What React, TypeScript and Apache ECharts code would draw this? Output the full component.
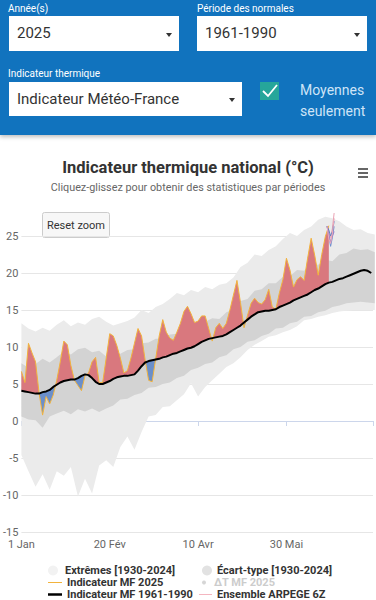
import React, { useEffect, useRef } from "react";
import * as echarts from "echarts";

const FONT = "Roboto, 'Noto Sans', sans-serif";

// ---- Data (day index since 1 Jan, leap-year calendar) ----
const NORMAL_STEP = 2; // days between points of the daily-type series
const BAND_STEP = 4; // days between points of the climatological bands

// Indicateur MF 1961-1990 (normal), every 2 days from day 0
const normal19611990 = [
  4.1, 4.0, 3.9, 3.8, 3.7, 3.7, 3.9, 4.0, 4.2, 4.6,
  4.9, 5.2, 5.4, 5.5, 5.6, 5.6, 5.8, 6.1, 6.3, 6.2,
  5.8, 5.3, 5.0, 5.0, 5.2, 5.4, 5.7, 5.9, 6.0, 6.1,
  6.1, 6.2, 6.3, 6.8, 7.4, 7.9, 8.1, 8.2, 8.3, 8.4,
  8.6, 8.7, 8.9, 9.1, 9.2, 9.4, 9.6, 9.8, 9.9, 10.1,
  10.4, 10.7, 10.9, 11.1, 11.2, 11.3, 11.4, 11.5, 11.7, 12.0,
  12.3, 12.6, 12.9, 13.3, 13.7, 14.1, 14.4, 14.7, 14.8, 14.9,
  14.9, 15.0, 15.1, 15.4, 15.6, 15.8, 16.0, 16.3, 16.5, 16.7,
  16.9, 17.1, 17.4, 17.7, 17.9, 18.2, 18.5, 18.7, 18.8, 19.0,
  19.2, 19.3, 19.5, 19.7, 19.9, 20.1, 20.3, 20.4, 20.3, 20.0,
];

// Indicateur MF 2025, every 2 days from day 0
const mf2025 = [
  6.7, 5.2, 10.5, 9.2, 8.0, 3.8, 0.8, 3.3, 2.3, 3.5,
  5.5, 8.0, 10.8, 10.3, 7.5, 5.5, 4.8, 4.1, 6.1, 6.5,
  8.0, 8.6, 5.2, 5.2, 8.5, 11.8, 11.5, 10.2, 8.5, 6.5,
  6.8, 8.5, 10.5, 12.5, 11.5, 8.3, 5.5, 5.3, 8.4, 11.5,
  13.7, 12.0, 11.2, 10.9, 12.0, 13.2, 14.8, 15.5, 14.5, 13.3,
  13.5, 14.2, 14.2, 12.5, 10.8, 12.6, 13.2, 12.5, 13.2, 15.0,
  17.0, 19.0, 16.0, 12.6, 14.3, 15.9, 16.6, 16.0, 15.8, 16.4,
  17.8, 15.4, 15.1, 17.3, 19.1, 22.0, 20.4, 18.1, 19.1, 19.5,
  19.0, 22.0, 24.7, 22.4, 19.7, 22.5, 24.9, 26.4,
];

// Écart-type [1930-2024], every 4 days from day 0
const stdUpper = [
  7.8, 7.2, 7.7, 8.4, 7.9, 8.6, 9.4, 9.0, 9.7, 9.9,
  9.3, 9.5, 8.7, 9.0, 9.1, 9.6, 9.7, 10.5, 10.6, 11.1,
  11.1, 11.7, 11.8, 12.5, 12.6, 13.4, 13.4, 13.9, 13.8, 14.7,
  15.1, 16.2, 16.5, 17.6, 17.8, 18.6, 18.6, 19.5, 19.6, 20.4,
  20.3, 21.1, 21.1, 21.8, 21.6, 22.5, 22.7, 23.3, 23.1, 23.2,
  22.8,
];
const stdLower = [
  0.6, 0.2, 0.1, -0.9, 0.6, 1.0, 1.4, 0.9, 1.6, 1.3,
  1.7, 1.2, 1.7, 2.1, 2.9, 3.0, 3.5, 3.8, 4.5, 4.6,
  5.0, 5.2, 5.8, 6.1, 6.9, 7.2, 7.7, 7.9, 8.6, 8.9,
  9.7, 10.0, 10.7, 10.9, 11.5, 11.8, 12.5, 12.6, 13.2, 13.4,
  14.1, 14.2, 14.7, 14.9, 15.4, 15.6, 15.9, 16.0, 16.1, 16.0,
  15.9,
];

// Extrêmes [1930-2024], every 4 days from day 0
const extUpper = [
  13.2, 12.5, 12.1, 12.6, 12.2, 13.0, 13.6, 12.8, 13.3, 13.0,
  13.8, 14.1, 13.4, 12.9, 13.2, 13.5, 14.0, 15.0, 14.6, 15.4,
  15.8, 16.5, 17.3, 17.0, 17.7, 17.4, 18.1, 17.8, 18.4, 18.6,
  19.4, 20.8, 21.4, 22.5, 22.3, 23.1, 23.6, 24.6, 25.4, 25.0,
  25.8, 26.3, 27.2, 27.6, 27.4, 27.0, 26.3, 25.8, 25.9, 25.4,
  25.2,
];
const extLower = [
  -4.6, -6.8, -8.9, -7.2, -9.3, -6.8, -7.4, -6.2, -10.2, -7.8,
  -9.8, -6.0, -5.3, -6.2, -3.5, -2.1, -3.9, -1.5, 0.6, 0.8,
  1.9, 2.0, 2.8, 3.6, 5.1, 3.3, 4.6, 5.5, 6.4, 7.3,
  7.8, 8.6, 9.6, 10.3, 10.8, 11.4, 11.6, 12.0, 12.3, 12.8,
  13.6, 13.8, 14.1, 14.3, 14.6, 14.8, 14.9, 15.0, 15.0, 15.0,
  15.0,
];

// Ensemble ARPEGE 6Z
const ensembleDays = [173, 174, 175, 176, 177];
const ensembleMembers = [
  [26.3, 25.5, 24.8, 26.0, 28.1],
  [26.3, 25.0, 23.6, 24.8, 26.3],
  [26.3, 25.2, 24.2, 25.0, 25.6],
  [26.3, 25.8, 25.0, 25.6, 27.0],
  [26.3, 24.6, 24.0, 25.4, 27.4],
];
const ensembleColors = ["#eaa3b4", "#6f8fd0", "#9b7cc4", "#5b7fc2", "#f0a8b8"];

// Axes
const xTickDays = [0, 50, 100, 150];
const xTickLabels = ["1 Jan", "20 Fév", "10 Avr", "30 Mai"];
const yMin = -15;
const yMax = 25;
const yStep = 5;

const S_EXT = "Extrêmes [1930-2024]";
const S_STD = "Écart-type [1930-2024]";
const S_2025 = "Indicateur MF 2025";
const S_NORM = "Indicateur MF 1961-1990";
const S_DT = "ΔT MF 2025";
const S_ENS = "Ensemble ARPEGE 6Z";

// 2025 vs normal, with the crossing points added so the fills meet the lines
function buildAnomalyPoints() {
  const pts: { x: number; t: number; n: number }[] = [];
  for (let i = 0; i < mf2025.length; i++) {
    const x = i * NORMAL_STEP;
    const t = mf2025[i];
    const n = normal19611990[i];
    pts.push({ x, t, n });
    if (i + 1 < mf2025.length) {
      const a = t - n;
      const b = mf2025[i + 1] - normal19611990[i + 1];
      if (a * b < 0) {
        const f = a / (a - b);
        const nc = n + f * (normal19611990[i + 1] - n);
        pts.push({ x: x + f * NORMAL_STEP, t: nc, n: nc });
      }
    }
  }
  return pts;
}

// A filled band between two data lines, drawn through the axes (api.coord)
function bandSeries(name: string, upper: number[][], lower: number[][], color: string, z: number) {
  return {
    type: "custom",
    name,
    silent: true,
    clip: false,
    z,
    itemStyle: { color },
    encode: { x: 0, y: 1 },
    data: [[upper[0][0], upper[0][1]]],
    renderItem: (_params: any, api: any) => {
      const pts = upper
        .map((p) => api.coord(p))
        .concat(lower.slice().reverse().map((p) => api.coord(p)));
      return { type: "polygon", shape: { points: pts }, style: { fill: color } };
    },
  };
}

function legendBox(name: string, left: number, centerY: number, icon: string, w: number, h: number, color: string, extra: any = {}) {
  return {
    show: true,
    left,
    top: centerY - 5.5,
    padding: 0,
    itemGap: 0,
    itemWidth: w,
    itemHeight: h,
    inactiveColor: "#cccccc",
    textStyle: { fontFamily: FONT, fontSize: 11, fontWeight: "bold", color: "#333333", lineHeight: 11 },
    data: [{ name, icon, itemStyle: { color } }],
    ...extra,
  };
}

function buildOption() {
  const pts = buildAnomalyPoints();
  const bandPts = (vals: number[]) => vals.map((v, i) => [i * BAND_STEP, v]);
  const normalLine = pts.map((p) => [p.x, p.n]);
  const aboveLine = pts.map((p) => [p.x, Math.max(p.t, p.n)]);
  const belowLine = pts.map((p) => [p.x, Math.min(p.t, p.n)]);

  const series: any[] = [
    bandSeries(S_EXT, bandPts(extUpper), bandPts(extLower), "#ebebeb", 1),
    bandSeries(S_STD, bandPts(stdUpper), bandPts(stdLower), "#d3d3d3", 1),
    bandSeries("anomalie+", aboveLine, normalLine, "#d9787e", 2),
    bandSeries("anomalie-", normalLine, belowLine, "#6b8fca", 2),
    {
      type: "line",
      name: S_2025,
      data: mf2025.map((v, i) => [i * NORMAL_STEP, v]),
      symbol: "none",
      clip: false,
      z: 3,
      color: "#f2b33d",
      lineStyle: { width: 1, color: "#f2b33d" },
      emphasis: { disabled: true },
    },
    {
      type: "line",
      name: S_NORM,
      data: normal19611990.map((v, i) => [i * NORMAL_STEP, v]),
      symbol: "none",
      z: 4,
      color: "#000000",
      lineStyle: { width: 2, color: "#000000" },
      emphasis: { disabled: true },
    },
    ...ensembleMembers.map((m, k) => ({
      type: "line",
      name: S_ENS,
      data: m.map((v, i) => [ensembleDays[i], v]),
      symbol: "none",
      clip: false,
      z: 5,
      color: ensembleColors[k],
      lineStyle: { width: 1, color: ensembleColors[k] },
      emphasis: { disabled: true },
    })),
    {
      type: "scatter",
      name: S_DT,
      data: mf2025.map((v, i) => [i * NORMAL_STEP, v - normal19611990[i]]),
      symbolSize: 4,
      color: "#999999",
      z: 6,
    },
  ];

  return {
    animation: false,
    backgroundColor: "#ffffff",
    textStyle: { fontFamily: FONT },
    title: {
      text: "Indicateur thermique national (°C)",
      subtext: "Cliquez-glissez pour obtenir des statistiques par périodes",
      left: "center",
      top: 157,
      padding: 0,
      itemGap: 3,
      textStyle: { fontFamily: FONT, fontSize: 16.5, fontWeight: "bold", color: "#333333", lineHeight: 20 },
      subtextStyle: { fontFamily: FONT, fontSize: 10.8, color: "#666666", lineHeight: 14 },
    },
    grid: { left: 18, right: 0, top: 236, bottom: 68, containLabel: false },
    xAxis: {
      type: "value",
      min: 0,
      max: 199,
      interval: 50,
      axisLine: { show: true, lineStyle: { color: "#ccd6eb", width: 1 } },
      axisTick: { show: true, length: 5, lineStyle: { color: "#ccd6eb" } },
      splitLine: { show: false },
      axisLabel: {
        margin: 7,
        fontFamily: FONT,
        fontSize: 11,
        color: "#666666",
        formatter: (v: number) => {
          const i = xTickDays.indexOf(v);
          return i >= 0 ? xTickLabels[i] : "";
        },
      },
    },
    yAxis: {
      type: "value",
      min: yMin,
      max: yMax,
      interval: yStep,
      axisLine: { show: false },
      axisTick: { show: false },
      splitLine: { show: true, lineStyle: { color: "#e6e6e6", width: 1 } },
      axisLabel: { margin: 3, fontFamily: FONT, fontSize: 11, color: "#666666" },
    },
    legend: [
      legendBox(S_EXT, 48, 570.5, "circle", 14, 10, "#f2f2f2"),
      legendBox(S_2025, 48, 582.5, "path://M0,0 L14,0 L14,1 L0,1 Z", 14, 11, "#f2b33d"),
      legendBox(S_NORM, 48, 594.5, "path://M0,0 L14,0 L14,2.5 L0,2.5 Z", 14, 11, "#000000"),
      legendBox(S_STD, 202, 570.5, "circle", 10, 10, "#e2e2e2"),
      legendBox(S_DT, 202, 582.5, "circle", 10, 4, "#cccccc", { selected: { [S_DT]: false } }),
      legendBox(S_ENS, 199, 594.5, "path://M0,0 L13,0 L13,1 L0,1 Z", 13, 11, "#f4b6c0"),
    ],
    graphic: [
      {
        type: "group",
        left: 42,
        top: 212,
        z: 100,
        children: [
          {
            type: "rect",
            shape: { x: 0.5, y: 0.5, width: 67, height: 25, r: 2 },
            style: { fill: "#f7f7f7", stroke: "#cccccc", lineWidth: 1 },
          },
          {
            type: "text",
            x: 34,
            y: 13,
            style: { text: "Reset zoom", fill: "#333333", fontSize: 11, fontFamily: FONT, align: "center", verticalAlign: "middle" },
          },
        ],
      },
      {
        type: "group",
        left: 358,
        top: 168,
        children: [0, 4, 8].map((dy) => ({
          type: "rect",
          shape: { x: 0, y: dy, width: 10, height: 2 },
          style: { fill: "#666666" },
        })),
      },
    ],
    series,
  };
}

function Select({ left, top, width, height, text }: any) {
  return (
    <div
      style={{
        position: "absolute",
        left,
        top,
        width,
        height,
        background: "#ffffff",
        boxSizing: "border-box",
        paddingLeft: 8,
        fontSize: 15,
        lineHeight: height + "px",
        color: "#333333",
        whiteSpace: "nowrap",
      }}
    >
      {text}
      <div
        style={{
          position: "absolute",
          right: 7,
          top: height / 2 - 1,
          width: 0,
          height: 0,
          borderLeft: "3.5px solid transparent",
          borderRight: "3.5px solid transparent",
          borderTop: "4px solid #333333",
        }}
      />
    </div>
  );
}

const labelStyle: any = {
  position: "absolute",
  fontSize: 10,
  lineHeight: "12px",
  color: "#ffffff",
  whiteSpace: "nowrap",
};

export default function App() {
  const ref = useRef<HTMLDivElement>(null);
  useEffect(() => {
    if (!ref.current) return;
    const chart = echarts.init(ref.current, undefined, { renderer: "svg" });
    chart.setOption(buildOption() as any);
    return () => chart.dispose();
  }, []);

  return (
    <div
      style={{
        position: "fixed",
        left: 0,
        top: 0,
        width: 376,
        height: 600,
        overflow: "hidden",
        background: "#ffffff",
        fontFamily: FONT,
      }}
    >
      <div ref={ref} style={{ position: "absolute", left: 0, top: 0, width: 376, height: 600 }} />
      <div
        style={{
          position: "absolute",
          left: 0,
          top: 0,
          width: 376,
          height: 135,
          background: "#1173be",
          boxShadow: "0 2px 4px rgba(0,0,0,0.25)",
        }}
      >
        <div style={{ ...labelStyle, left: 8, top: 3 }}>Année(s)</div>
        <div style={{ ...labelStyle, left: 197, top: 3 }}>Période des normales</div>
        <Select left={9} top={16} width={170} height={35} text="2025" />
        <Select left={197} top={16} width={170} height={35} text="1961-1990" />
        <div style={{ ...labelStyle, left: 8, top: 68 }}>Indicateur thermique</div>
        <Select left={9} top={82} width={233} height={34} text="Indicateur Météo-France" />
        <div style={{ position: "absolute", left: 260, top: 82, width: 19, height: 18, background: "#26a69a" }}>
          <svg width="19" height="18" style={{ position: "absolute", left: 0, top: 0 }}>
            <polyline points="3,9 8,14 17,3" fill="none" stroke="#ffffff" strokeWidth="1.8" />
          </svg>
        </div>
        <div
          style={{
            position: "absolute",
            left: 300,
            top: 80,
            fontSize: 14,
            lineHeight: "21px",
            color: "#cfe4f7",
            whiteSpace: "nowrap",
          }}
        >
          Moyennes
          <br />
          seulement
        </div>
      </div>
    </div>
  );
}
